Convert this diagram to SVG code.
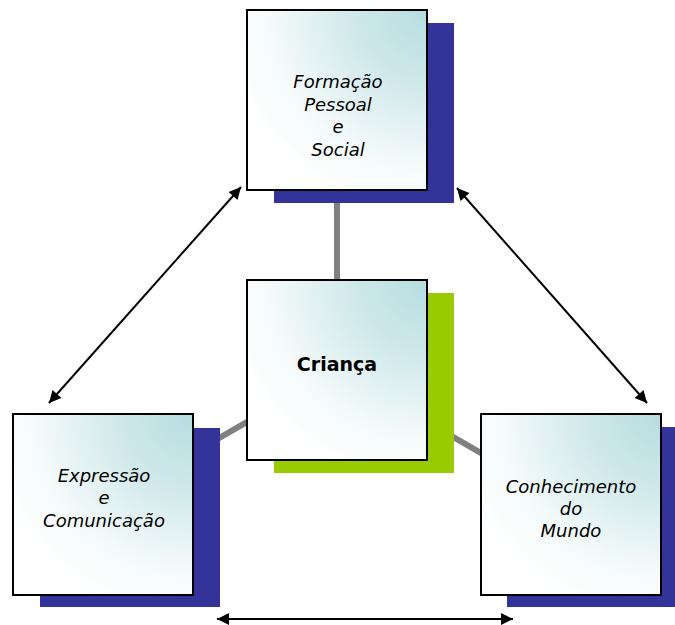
<svg xmlns="http://www.w3.org/2000/svg" width="675" height="625" viewBox="0 0 675 625">
<defs>
<radialGradient id="fill" cx="1" cy="0" r="1.15" fx="1" fy="0">
<stop offset="0" stop-color="#b6dde0"/>
<stop offset="0.35" stop-color="#cfe8ea"/>
<stop offset="0.75" stop-color="#f4fafa"/>
<stop offset="1" stop-color="#ffffff"/>
</radialGradient>
<marker id="ah" viewBox="0 0 10 10" refX="10" refY="5" markerWidth="7" markerHeight="6" orient="auto-start-reverse" markerUnits="strokeWidth">
<path d="M0,0 L10,5 L0,10 z" fill="#000"/>
</marker>
<style>
.box{fill:url(#fill);stroke:#000;stroke-width:2}
.navy{fill:#333399}
.green{fill:#99cc00}
.gray{stroke:#808080;stroke-width:6;fill:none}
.arr{stroke:#000;stroke-width:2;fill:none;marker-start:url(#ah);marker-end:url(#ah)}
.it{font-family:"DejaVu Sans",Verdana,sans-serif;font-style:italic;font-size:18px;text-anchor:middle;fill:#000}
.bd{font-family:"DejaVu Sans",Verdana,sans-serif;font-weight:bold;font-size:19px;text-anchor:middle;fill:#000}
</style>
</defs>
<rect width="675" height="625" fill="#fff"/>
<g id="connectors">
<line class="gray" x1="337" y1="203" x2="337" y2="370"/>
<line class="gray" x1="337" y1="370" x2="103" y2="505"/>
<line class="gray" x1="337" y1="370" x2="571" y2="505"/>
<line class="arr" x1="49" y1="403" x2="241" y2="187"/>
<line class="arr" x1="457" y1="188" x2="647" y2="403"/>
<line class="arr" x1="217" y1="619" x2="513" y2="619"/>
</g>
<g id="formacao">
<rect class="navy" x="274" y="23" width="180" height="180"/>
<rect class="box" x="247" y="10" width="180" height="180"/>
<text class="it" x="338" y="88">Formação</text>
<text class="it" x="338" y="111">Pessoal</text>
<text class="it" x="338" y="133">e</text>
<text class="it" x="338" y="156">Social</text>
</g>
<g id="crianca">
<rect class="green" x="274" y="293" width="180" height="180"/>
<rect class="box" x="247" y="280" width="180" height="180"/>
<text class="bd" x="337" y="371">Criança</text>
</g>
<g id="expressao">
<rect class="navy" x="40" y="428" width="180" height="179"/>
<rect class="box" x="13" y="414" width="180" height="181"/>
<text class="it" x="104" y="482">Expressão</text>
<text class="it" x="104" y="504">e</text>
<text class="it" x="104" y="527">Comunicação</text>
</g>
<g id="conhecimento">
<rect class="navy" x="507" y="427" width="168" height="180"/>
<rect class="box" x="481" y="414" width="180" height="181"/>
<text class="it" x="571" y="493">Conhecimento</text>
<text class="it" x="571" y="515">do</text>
<text class="it" x="571" y="537">Mundo</text>
</g>
</svg>
